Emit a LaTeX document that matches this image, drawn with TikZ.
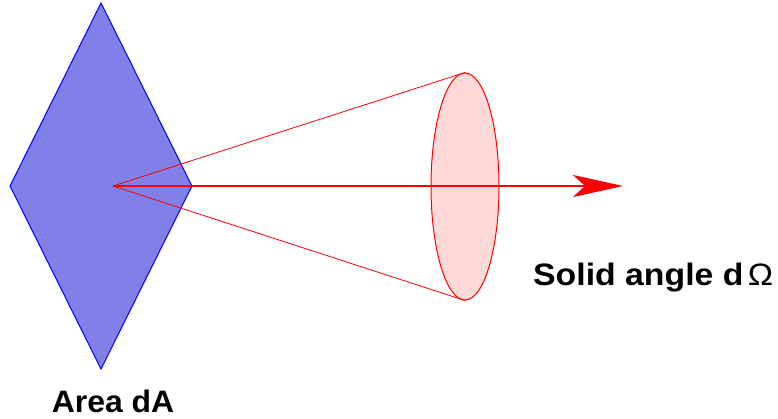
\documentclass[tikz,border=0pt]{standalone}
\usepackage{fontspec}
\setmainfont{Liberation Sans}
\usepackage{xcolor}
\usepackage{tikz}
\usetikzlibrary{arrows.meta,shapes.geometric}

\definecolor{areablue}{RGB}{128,128,232}
\definecolor{rimpink}{RGB}{255,216,216}

\begin{document}
\begin{tikzpicture}[
  x=1pt, y=-1pt,
  area/.style={draw=blue, fill=areablue, line width=1pt},
  rim/.style={ellipse, draw=red, fill=rimpink, line width=1pt,
    minimum width=68pt, minimum height=227pt, inner sep=0pt},
  cone/.style={red, line width=0.8pt},
  ray/.style={-{Stealth[length=50pt, width=22pt, inset=12pt]}, red, line width=2.5pt},
  caption/.style={font=\fontsize{31}{35}\selectfont\bfseries, inner sep=0pt}
]
\useasboundingbox (0,0) rectangle (778,418);
% surface element
\coordinate (left) at (10,186);
\coordinate (top) at (101,3);
\coordinate (right) at (192,186);
\coordinate (bottom) at (101,369);
\draw[area] (left) -- (top) -- (right) -- (bottom) -- cycle;
% cone of directions
\coordinate (apex) at (113,186);
\node[rim] (disk) at (465,186.5) {};
\draw[cone] (apex) -- (disk.north);
\draw[cone] (apex) -- (disk.south);
\coordinate (tip) at (623,186);
\draw[ray] (apex) -- (tip);
% labels
\node[caption, anchor=base west] (omega) at (533,285)
  {\scalebox{1.09}[1]{Solid angle d\hspace{4pt}{\mdseries Ω}}};
\node[caption, anchor=base] (dA) at (113,412) {\scalebox{1.03}[1]{Area dA}};
\end{tikzpicture}
\end{document}
